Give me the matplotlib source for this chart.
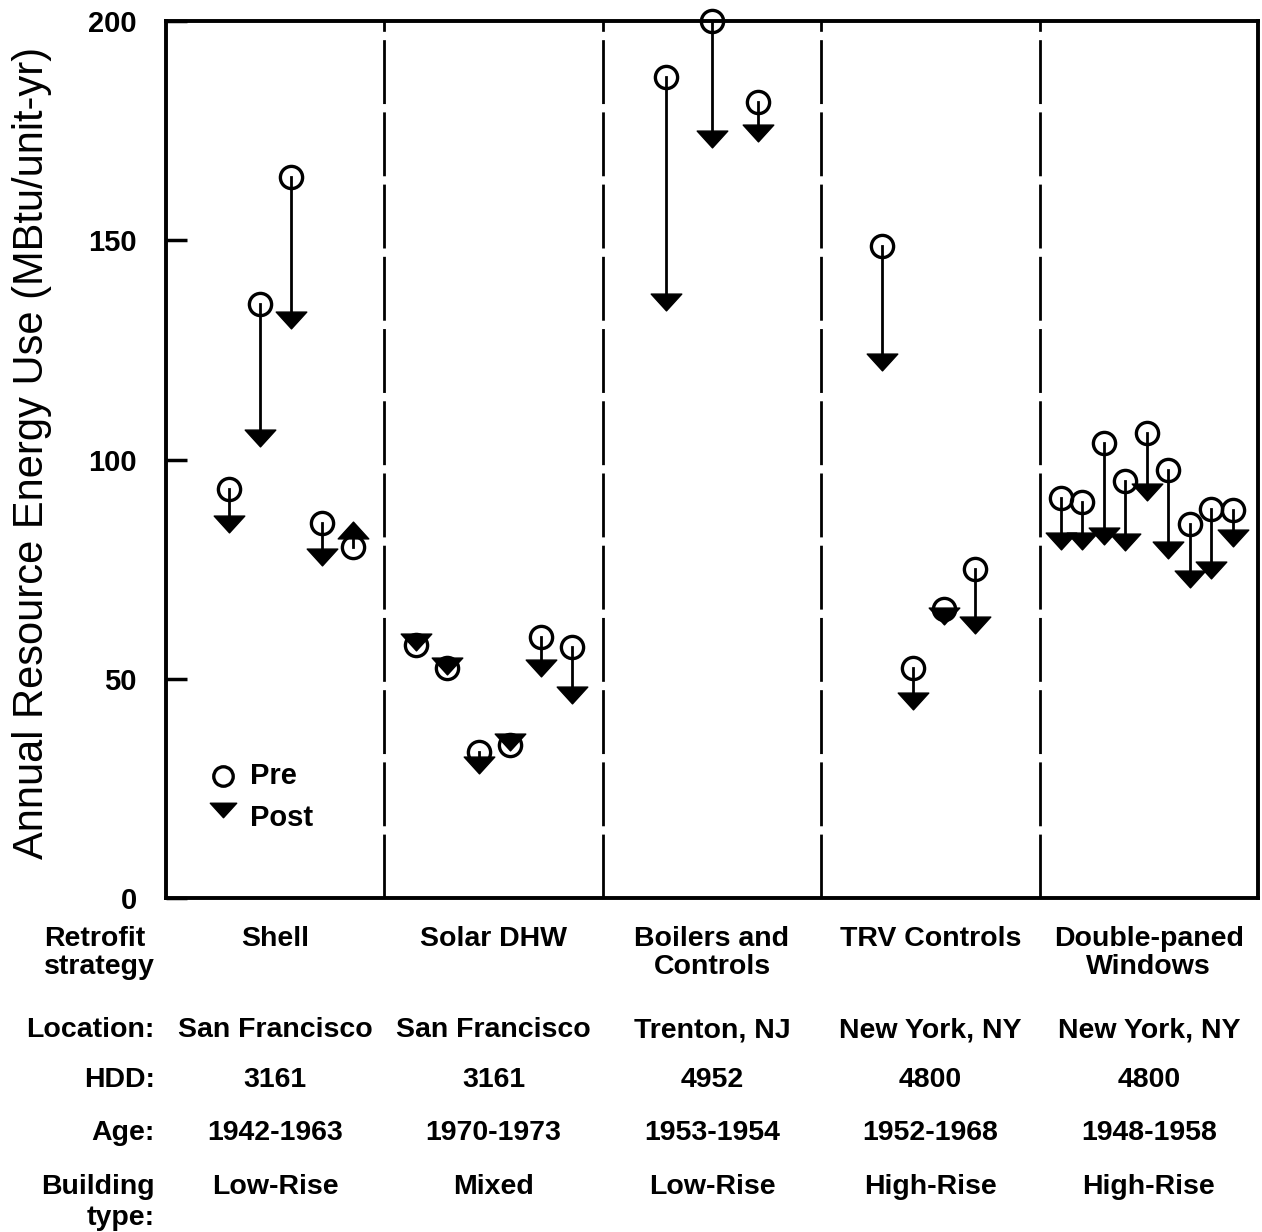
import numpy as np
import matplotlib
matplotlib.use('Agg')
import matplotlib.pyplot as plt
from matplotlib.path import Path as MPath
from matplotlib.transforms import blended_transform_factory

# --- data ------------------------------------------------------------------
strategies = ['Shell', 'Solar DHW', 'Boilers and\nControls', 'TRV Controls',
              'Double-paned\nWindows']
locations = ['San Francisco', 'San Francisco', 'Trenton, NJ', 'New York, NY',
             'New York, NY']
hdd = ['3161', '3161', '4952', '4800', '4800']
ages = ['1942-1963', '1970-1973', '1953-1954', '1952-1968', '1948-1958']
building_types = ['Low-Rise', 'Mixed', 'Low-Rise', 'High-Rise', 'High-Rise']

shell_pre = [93.3, 135.5, 164.4, 85.5, 80.0]
shell_post = [85.3, 105.0, 131.8, 77.8, 84.0]
solar_pre = [57.7, 52.4, 33.3, 34.9, 59.5, 57.2]
solar_post = [58.4, 53.0, 30.3, 35.5, 52.5, 46.3]
boiler_pre = [187.2, 200.0, 181.5]
boiler_post = [136.0, 173.0, 174.5]
trv_pre = [148.7, 52.4, 65.9, 75.0]
trv_post = [122.2, 45.0, 64.3, 62.3]
window_pre = [91.2, 90.3, 103.8, 95.1, 106.0, 97.6, 85.3, 88.7, 88.5]
window_post = [81.4, 81.4, 82.5, 81.2, 92.6, 79.4, 72.7, 74.8, 82.1]

pre_groups = [shell_pre, solar_pre, boiler_pre, trv_pre, window_pre]
post_groups = [shell_post, solar_post, boiler_post, trv_post, window_post]

y_ticks = [0, 50, 100, 150, 200]

# within-panel layout: (first offset, step) in panel widths
panel_layout = [(0.29, 0.142), (0.146, 0.143), (0.29, 0.21), (0.28, 0.142),
                (0.096, 0.0985)]

plt.rcParams['font.family'] = ['Liberation Sans', 'DejaVu Sans']

# wide, flat triangle markers
tri_down = MPath([(-1, 0.55), (1, 0.55), (0, -0.55), (-1, 0.55)],
                 [MPath.MOVETO, MPath.LINETO, MPath.LINETO, MPath.CLOSEPOLY])
tri_up = MPath([(-1, -0.55), (1, -0.55), (0, 0.55), (-1, -0.55)],
               [MPath.MOVETO, MPath.LINETO, MPath.LINETO, MPath.CLOSEPOLY])

fig = plt.figure(figsize=(12.62, 12.32), dpi=100)
ax = fig.add_axes([0.1315, 0.271, 0.8653, 0.712])

for i, (pre, post) in enumerate(zip(pre_groups, post_groups)):
    start, step = panel_layout[i]
    xs = i + start + step * np.arange(len(pre))
    for x, a, b in zip(xs, pre, post):
        ax.plot([x, x], [a, b], color='black', lw=2, clip_on=False, zorder=2)
        # only a clear rise gets an upward arrow
        mk = tri_up if b - a > 2 else tri_down
        ax.plot(x, b, marker=mk, ms=22, color='black', mec='black', lw=0,
                clip_on=False, zorder=3)
    ax.plot(xs, pre, 'o', ms=16, mfc='none', mec='black', mew=2.4,
            clip_on=False, zorder=4)

for k in range(1, 5):
    ax.axvline(k, color='black', lw=2, dashes=(23, 3), zorder=1)

ax.set_xlim(0, 5)
ax.set_ylim(0, 200)
ax.set_xticks([])
ax.set_yticks(y_ticks)
ax.tick_params(axis='y', direction='in', length=15, width=2.5, pad=21,
               labelsize=21)
for lab in ax.get_yticklabels():
    lab.set_fontweight('bold')
for s in ax.spines.values():
    s.set_linewidth(2.8)
ax.set_ylabel('Annual Resource Energy Use (MBtu/unit-yr)', fontsize=30)
ax.yaxis.set_label_coords(-0.104, 0.508)

# legend drawn by hand inside the first panel
ax.plot(0.263, 27.8, 'o', ms=14, mfc='none', mec='black', mew=2.4)
ax.plot(0.263, 20.0, marker=tri_down, ms=19, color='black', lw=0)
ax.text(0.385, 27.8, 'Pre', fontsize=21, fontweight='bold', va='center')
ax.text(0.385, 18.3, 'Post', fontsize=21, fontweight='bold', va='center')

# table below the axes
tr = blended_transform_factory(ax.transData, fig.transFigure)
fs = 20.5
top_y = 1 - 926 / 1232
for i, v in enumerate(strategies):
    ax.text(i + 0.5, top_y, v, transform=tr, ha='center', va='top',
            ma='center', fontsize=fs, fontweight='bold', linespacing=1.1)
fig.text(155 / 1262, top_y, 'Retrofit\nstrategy', ha='right', va='top',
         ma='left', fontsize=fs, fontweight='bold', linespacing=1.1)

row_y = [1 - 1030 / 1232, 1 - 1080 / 1232, 1 - 1133 / 1232, 1 - 1187 / 1232]
rows = [locations, hdd, ages, building_types]
row_labels = ['Location:', 'HDD:', 'Age:', 'Building']
for yy, vals, lbl in zip(row_y, rows, row_labels):
    for i, v in enumerate(vals):
        ax.text(i + 0.5, yy, v, transform=tr, ha='center', va='center',
                fontsize=fs, fontweight='bold')
    fig.text(155 / 1262, yy, lbl, ha='right', va='center', fontsize=fs,
             fontweight='bold')
fig.text(155 / 1262, 1 - 1218 / 1232, 'type:', ha='right', va='center',
         fontsize=fs, fontweight='bold')

fig.savefig('out.png', dpi=100)
